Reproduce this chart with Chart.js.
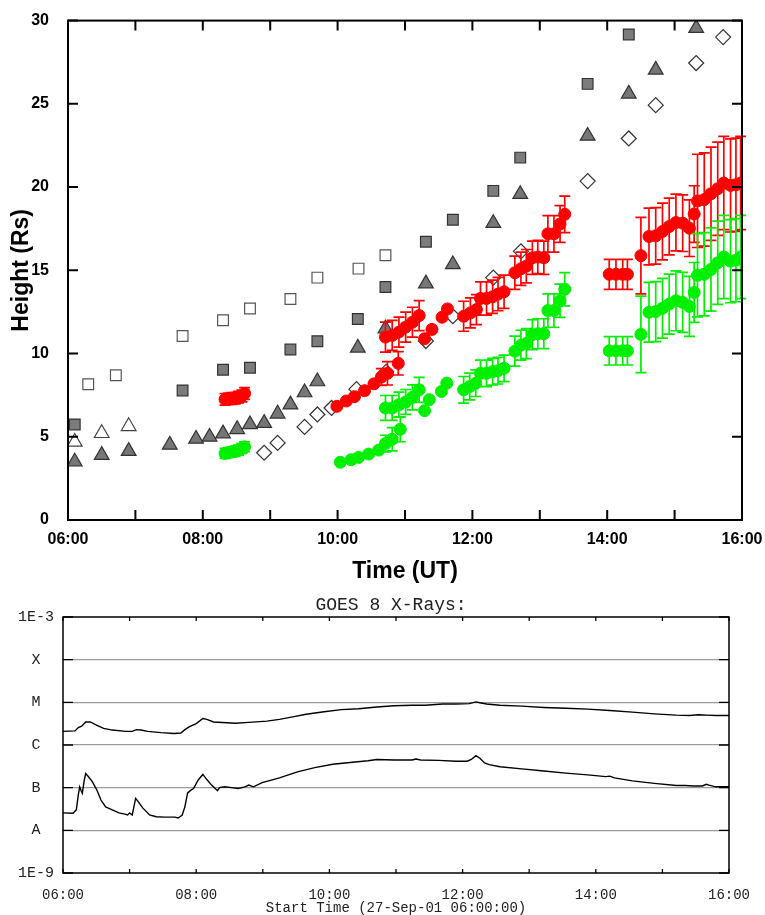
<!DOCTYPE html>
<html><head><meta charset="utf-8">
<script src="https://cdn.jsdelivr.net/npm/chart.js@4.4.1/dist/chart.umd.min.js"></script>
<style>
html,body{margin:0;padding:0;background:#fff;}
#wrap{position:relative;width:765px;height:915px;overflow:hidden;background:#fff;}
#top{position:absolute;left:0;top:0;}
#bot{position:absolute;left:0;top:590px;}
</style></head><body>
<div id="wrap"><canvas id="top" width="765" height="590"></canvas><canvas id="bot" width="765" height="325"></canvas></div>
<script>
// ---------- Top panel: height-time data (time in decimal hours UT, height in Rs) ----------
const openSqT = [6.30, 6.71, 7.70, 8.30, 8.70, 9.30, 9.70, 10.31, 10.71];
const openSqH = [8.16, 8.69, 11.05, 12.0, 12.7, 13.27, 14.56, 15.1, 15.9];

const graySqT = [6.10, 7.70, 8.30, 8.70, 9.30, 9.70, 10.30, 10.71, 11.31, 11.71, 12.31, 12.71, 13.71, 14.32];
const graySqH = [5.74, 7.78, 9.03, 9.15, 10.24, 10.74, 12.08, 14.0, 16.72, 18.04, 19.77, 21.77, 26.2, 29.17];

const grayTriT = [6.10, 6.50, 6.90, 7.51, 7.90, 8.10, 8.30, 8.51, 8.70, 8.91, 9.11, 9.30, 9.51, 9.70, 10.30, 10.71, 11.31, 11.71, 12.31, 12.71, 13.71, 14.32, 14.72, 15.32];
const grayTriH = [3.5, 3.9, 4.14, 4.51, 4.87, 4.99, 5.19, 5.45, 5.74, 5.82, 6.38, 6.93, 7.66, 8.32, 10.34, 11.49, 14.2, 15.35, 17.83, 19.57, 23.07, 25.6, 27.04, 29.55];

const openTriT = [6.10, 6.50, 6.90];
const openTriH = [4.69, 5.21, 5.63];

const diamondT = [8.91, 9.11, 9.51, 9.70, 9.91, 10.28, 10.72, 11.31, 11.71, 12.31, 12.72, 13.71, 14.32, 14.72, 15.32, 15.72];
const diamondH = [4.04, 4.63, 5.59, 6.34, 6.73, 7.86, 8.9, 10.75, 12.24, 14.56, 16.14, 20.36, 22.92, 24.92, 27.45, 29.01];

const redT = [8.33, 8.38, 8.43, 8.48, 8.53, 8.58, 8.62,
  9.99, 10.13, 10.25, 10.40, 10.54, 10.65, 10.74, 10.90,
  10.71, 10.81, 10.91, 11.01, 11.11, 11.21,
  11.29, 11.40, 11.55, 11.63,
  11.87, 11.97, 12.06, 12.12, 12.21, 12.30, 12.38, 12.47,
  12.63, 12.72, 12.80, 12.89, 12.97, 13.06,
  13.12, 13.21, 13.30, 13.37,
  14.03, 14.13, 14.23, 14.30,
  14.50,
  14.62, 14.72, 14.82, 14.92, 15.02, 15.12, 15.22, 15.29,
  15.34, 15.44, 15.54, 15.64, 15.73, 15.83, 15.91, 15.98];
const redH = [7.25, 7.28, 7.30, 7.32, 7.38, 7.45, 7.60,
  6.83, 7.15, 7.41, 7.77, 8.18, 8.59, 8.81, 9.41,
  10.99, 11.09, 11.29, 11.59, 11.88, 12.28,
  10.89, 11.45, 12.18, 12.68,
  12.24, 12.44, 12.64, 13.31, 13.31, 13.41, 13.57, 13.71,
  14.85, 15.09, 15.25, 15.75, 15.80, 15.75,
  17.19, 17.19, 17.78, 18.36,
  14.76, 14.76, 14.76, 14.76,
  15.88,
  17.03, 17.07, 17.33, 17.63, 17.87, 17.83, 17.53, 18.38,
  19.17, 19.25, 19.60, 19.90, 20.24, 20.10, 20.14, 20.24];
const redErr = [0.35, 0.35, 0.35, 0.35, 0.35, 0.35, 0.35,
  0, 0, 0, 0, 0, 0.5, 0.7, 0.7,
  0.9, 0.9, 0.9, 0.9, 0.9, 0.9,
  0, 0, 0, 0,
  0.9, 0.9, 0.9, 1.0, 1.0, 1.0, 1.0, 1.0,
  1.0, 1.0, 1.0, 1.0, 1.0, 1.0,
  1.1, 1.1, 1.1, 1.1,
  0.9, 0.9, 0.9, 0.9,
  2.3,
  1.7, 1.7, 1.7, 1.7, 1.7, 1.7, 1.7, 1.7,
  2.8, 2.8, 2.8, 2.8, 2.8, 2.8, 2.8, 2.8];

const greenT = [8.33, 8.38, 8.43, 8.48, 8.53, 8.58, 8.62,
  10.04, 10.20, 10.31, 10.46, 10.61, 10.71, 10.81, 10.93,
  10.71, 10.81, 10.91, 11.01, 11.11, 11.21,
  11.29, 11.36, 11.54, 11.62,
  11.87, 11.96, 12.05, 12.12, 12.21, 12.30, 12.38, 12.47,
  12.63, 12.72, 12.80, 12.89, 12.97, 13.06,
  13.12, 13.21, 13.30, 13.37,
  14.03, 14.13, 14.23, 14.30,
  14.50,
  14.62, 14.72, 14.82, 14.92, 15.02, 15.12, 15.22, 15.29,
  15.34, 15.44, 15.54, 15.64, 15.73, 15.83, 15.91, 15.98];
const greenH = [4.00, 4.05, 4.10, 4.12, 4.20, 4.30, 4.40,
  3.47, 3.62, 3.76, 3.96, 4.20, 4.59, 4.85, 5.45,
  6.73, 6.73, 6.93, 7.09, 7.37, 7.82,
  6.57, 7.23, 7.72, 8.22,
  7.82, 8.02, 8.22, 8.81, 8.81, 8.91, 8.97, 9.11,
  10.14, 10.50, 10.60, 11.13, 11.19, 11.19,
  12.58, 12.58, 13.17, 13.86,
  10.16, 10.16, 10.16, 10.16,
  11.15,
  12.48, 12.52, 12.72, 12.97, 13.17, 13.07, 12.83, 13.67,
  14.70, 14.76, 15.05, 15.45, 15.80, 15.55, 15.61, 15.80];
const greenErr = [0.3, 0.3, 0.3, 0.3, 0.3, 0.3, 0.3,
  0, 0, 0, 0, 0, 0.5, 0.7, 0.75,
  0.75, 0.75, 0.75, 0.75, 0.75, 0.75,
  0, 0, 0, 0,
  0.8, 0.8, 0.8, 0.8, 0.8, 0.8, 0.8, 0.8,
  0.9, 0.9, 0.9, 0.9, 0.9, 0.9,
  1.0, 1.0, 1.0, 1.0,
  0.85, 0.85, 0.85, 0.85,
  2.3,
  1.8, 1.8, 1.8, 1.8, 1.8, 1.8, 1.8, 1.8,
  2.5, 2.5, 2.5, 2.5, 2.5, 2.5, 2.5, 2.5];

// ---------- Bottom panel: GOES 8 X-ray flux (log10 W/m^2) ----------
const goesLongT = [6.00, 6.18, 6.23, 6.28, 6.34, 6.41, 6.51, 6.61, 6.74, 6.94, 7.04, 7.10, 7.17, 7.27, 7.47, 7.67, 7.77, 7.83, 7.90, 8.00, 8.10, 8.16, 8.26, 8.46, 8.59, 8.79, 9.06, 9.25, 9.45, 9.65, 9.92, 10.18, 10.44, 10.71, 10.97, 11.24, 11.44, 11.70, 11.90, 12.10, 12.20, 12.26, 12.36, 12.56, 12.89, 13.22, 13.55, 13.88, 14.21, 14.55, 14.88, 15.21, 15.41, 15.54, 15.67, 15.80, 16.00];
const goesLong = [-5.68, -5.67, -5.59, -5.56, -5.46, -5.46, -5.54, -5.61, -5.65, -5.68, -5.68, -5.64, -5.65, -5.68, -5.71, -5.73, -5.72, -5.64, -5.57, -5.50, -5.38, -5.40, -5.46, -5.48, -5.49, -5.47, -5.44, -5.40, -5.34, -5.28, -5.22, -5.17, -5.15, -5.11, -5.08, -5.07, -5.07, -5.04, -5.04, -5.03, -4.99, -5.01, -5.04, -5.07, -5.09, -5.12, -5.14, -5.16, -5.19, -5.23, -5.27, -5.30, -5.31, -5.29, -5.30, -5.31, -5.31];

const goesShortT = [6.00, 6.15, 6.20, 6.23, 6.25, 6.27, 6.29, 6.32, 6.34, 6.38, 6.44, 6.51, 6.57, 6.64, 6.74, 6.84, 6.93, 6.97, 7.00, 7.04, 7.07, 7.09, 7.12, 7.20, 7.30, 7.40, 7.53, 7.68, 7.73, 7.79, 7.83, 7.87, 7.91, 7.96, 8.03, 8.10, 8.16, 8.23, 8.32, 8.35, 8.43, 8.53, 8.63, 8.73, 8.79, 8.86, 8.99, 9.25, 9.52, 9.78, 10.05, 10.31, 10.58, 10.71, 10.97, 11.24, 11.30, 11.37, 11.64, 11.90, 12.07, 12.13, 12.20, 12.26, 12.33, 12.40, 12.56, 12.89, 13.22, 13.55, 13.88, 14.15, 14.21, 14.28, 14.55, 14.88, 15.21, 15.34, 15.47, 15.60, 15.66, 15.70, 15.80, 16.00];
const goesShort = [-7.59, -7.60, -7.52, -7.17, -6.98, -7.06, -7.13, -6.82, -6.67, -6.74, -6.86, -7.06, -7.29, -7.45, -7.52, -7.59, -7.62, -7.64, -7.59, -7.64, -7.41, -7.25, -7.31, -7.48, -7.64, -7.68, -7.69, -7.69, -7.71, -7.64, -7.45, -7.13, -7.07, -7.02, -6.82, -6.69, -6.81, -6.94, -7.07, -7.00, -6.98, -7.00, -7.02, -6.98, -6.94, -6.98, -6.88, -6.77, -6.63, -6.53, -6.45, -6.41, -6.37, -6.34, -6.35, -6.35, -6.33, -6.35, -6.36, -6.38, -6.38, -6.34, -6.25, -6.31, -6.42, -6.46, -6.51, -6.56, -6.61, -6.66, -6.70, -6.74, -6.73, -6.77, -6.84, -6.90, -6.95, -6.95, -6.96, -6.96, -6.92, -6.94, -6.98, -6.98];

const fluxLevels = [-9, -8, -7, -6, -5, -4, -3];
const fluxLabels = ['1E-9', 'A', 'B', 'C', 'M', 'X', '1E-3'];

const pts = (T, V) => T.map((t, i) => ({x: t, y: V[i]}));
const hourLabel = v => (v % 2 === 0) ? String(v).padStart(2, '0') + ':00' : '';

// ---------- plugins ----------
const errorBars = {
  id: 'errorBars',
  afterDatasetDraw(chart, args) {
    const ds = chart.data.datasets[args.index];
    if (!ds.errors) return;
    const {ctx} = chart, xs = chart.scales.x, ys = chart.scales.y;
    ctx.save();
    ctx.strokeStyle = ds.errColor;
    ctx.lineWidth = 1.7;
    ctx.beginPath();
    ds.data.forEach((d, i) => {
      const e = ds.errors[i];
      if (!e) return;
      const px = xs.getPixelForValue(d.x);
      const y1 = ys.getPixelForValue(d.y + e), y2 = ys.getPixelForValue(d.y - e);
      ctx.moveTo(px, y1); ctx.lineTo(px, y2);
      ctx.moveTo(px - 5.5, y1); ctx.lineTo(px + 5.5, y1);
      ctx.moveTo(px - 5.5, y2); ctx.lineTo(px + 5.5, y2);
    });
    ctx.stroke();
    ctx.restore();
  }
};

const frame = {
  id: 'frame',
  afterDraw(chart, args, o) {
    const {ctx, chartArea: a} = chart, xs = chart.scales.x, ys = chart.scales.y;
    ctx.save();
    ctx.strokeStyle = '#000';
    ctx.lineWidth = o.tickWidth;
    ctx.beginPath();
    xs.ticks.forEach(t => {
      const p = xs.getPixelForValue(t.value);
      ctx.moveTo(p, a.top); ctx.lineTo(p, a.top + o.xLen);
      ctx.moveTo(p, a.bottom); ctx.lineTo(p, a.bottom - o.xLen);
    });
    ys.ticks.forEach(t => {
      const p = ys.getPixelForValue(t.value);
      ctx.moveTo(a.left, p); ctx.lineTo(a.left + o.yLen, p);
      ctx.moveTo(a.right, p); ctx.lineTo(a.right - o.yLen, p);
    });
    ctx.stroke();
    ctx.lineWidth = o.borderWidth;
    ctx.strokeRect(a.left, a.top, a.right - a.left, a.bottom - a.top);
    if (o.title) {
      ctx.fillStyle = '#222';
      ctx.font = o.titleFont;
      ctx.textAlign = 'center';
      ctx.textBaseline = 'middle';
      ctx.fillText(o.title, (a.left + a.right) / 2 + o.titleDx, o.titleY);
    }
    ctx.restore();
  }
};

// ---------- top chart ----------
const boldFont = (s) => ({family: 'Liberation Sans, Arial, sans-serif', size: s, weight: 'bold'});
new Chart(document.getElementById('top'), {
  type: 'scatter',
  data: {datasets: [
    {data: pts(greenT, greenH), errors: greenErr, errColor: '#00f000', pointStyle: 'circle', pointRadius: 6, backgroundColor: '#00f000', borderColor: '#00f000', borderWidth: 1},
    {data: pts(redT, redH), errors: redErr, errColor: '#ff0000', pointStyle: 'circle', pointRadius: 6, backgroundColor: '#ff0000', borderColor: '#ff0000', borderWidth: 1},
    {data: pts(diamondT, diamondH), pointStyle: 'rectRot', pointRadius: 7.5, backgroundColor: '#ffffff', borderColor: '#333333', borderWidth: 1.2},
    {data: pts(openTriT, openTriH), pointStyle: 'triangle', pointRadius: 8.5, backgroundColor: '#ffffff', borderColor: '#444444', borderWidth: 1.2},
    {data: pts(grayTriT, grayTriH), pointStyle: 'triangle', pointRadius: 8.5, backgroundColor: '#767676', borderColor: '#333333', borderWidth: 1.2},
    {data: pts(graySqT, graySqH), pointStyle: 'rect', pointRadius: 7.6, backgroundColor: '#7c7c7c', borderColor: '#333333', borderWidth: 1.2},
    {data: pts(openSqT, openSqH), pointStyle: 'rect', pointRadius: 7.6, backgroundColor: '#ffffff', borderColor: '#555555', borderWidth: 1.2}
  ]},
  options: {
    responsive: false, animation: false, devicePixelRatio: 1,
    layout: {padding: {left: 0, right: 23, top: 15, bottom: 0}},
    plugins: {legend: {display: false}, tooltip: {enabled: false},
      frame: {xLen: 10, yLen: 10, tickWidth: 2, borderWidth: 2}},
    scales: {
      x: {type: 'linear', min: 6, max: 16,
        afterFit: s => { s.height = 70; },
        grid: {display: false}, border: {display: false},
        ticks: {stepSize: 1, autoSkip: false, maxRotation: 0, padding: 2, color: '#000', font: boldFont(16), callback: hourLabel},
        title: {display: true, text: 'Time (UT)', color: '#000', font: boldFont(23), padding: {top: 0, bottom: 5}}},
      y: {min: 0, max: 30,
        afterFit: s => { s.width = 68; },
        grid: {display: false}, border: {display: false},
        ticks: {stepSize: 5, padding: 11, color: '#000', font: boldFont(16)},
        title: {display: true, text: 'Height (Rs)', color: '#000', font: boldFont(23), padding: {top: 8, bottom: 0}}}
    }
  },
  plugins: [errorBars, frame]
});

// ---------- bottom chart ----------
const monoFont = (s, lh) => ({family: 'Liberation Mono, DejaVu Sans Mono, monospace', size: s, lineHeight: lh || 1.2});
new Chart(document.getElementById('bot'), {
  type: 'scatter',
  data: {datasets: [
    {data: pts(goesLongT, goesLong), showLine: true, pointRadius: 0, borderColor: '#000', borderWidth: 1.4},
    {data: pts(goesShortT, goesShort), showLine: true, pointRadius: 0, borderColor: '#000', borderWidth: 1.4}
  ]},
  options: {
    responsive: false, animation: false, devicePixelRatio: 1,
    layout: {padding: {left: 0, right: 36, top: 27, bottom: 0}},
    plugins: {legend: {display: false}, tooltip: {enabled: false},
      frame: {xLen: 4, yLen: 10, tickWidth: 1.3, borderWidth: 1.5, title: 'GOES 8 X-Rays:', titleFont: '18px "Liberation Mono", monospace', titleDx: -5, titleY: 15}},
    scales: {
      x: {type: 'linear', min: 6, max: 16,
        afterFit: s => { s.height = 42; },
        grid: {display: false}, border: {display: false},
        ticks: {stepSize: 1, autoSkip: false, maxRotation: 0, padding: 6, color: '#222', font: monoFont(14), callback: hourLabel},
        title: {display: true, text: 'Start Time (27-Sep-01 06:00:00)', color: '#222', font: monoFont(14, 1), padding: 0}},
      y: {min: -9, max: -3,
        afterFit: s => { s.width = 63; },
        grid: {drawTicks: false, lineWidth: 1.2, color: c => (c.tick && c.tick.value > -9 && c.tick.value < -3) ? '#9a9a9a' : 'rgba(0,0,0,0)'},
        border: {display: false},
        ticks: {stepSize: 1, padding: 9, crossAlign: 'center', color: '#222', font: monoFont(15),
          callback: v => { const i = fluxLevels.indexOf(v); return i >= 0 ? fluxLabels[i] : ''; }}}
    }
  },
  plugins: [frame]
});
</script></body></html>
